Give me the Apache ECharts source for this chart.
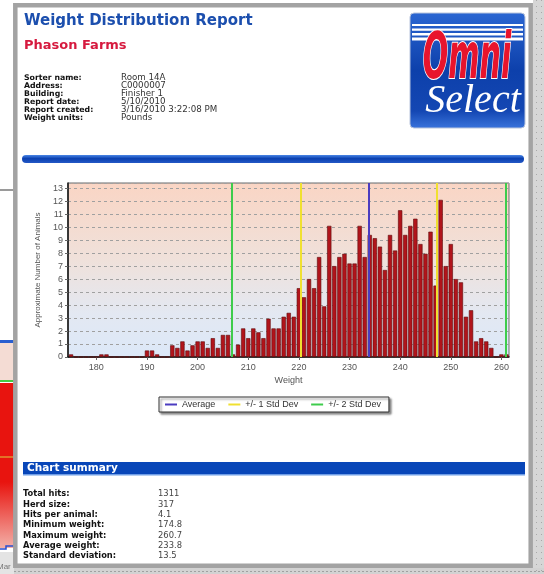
<!DOCTYPE html>
<html>
<head>
<meta charset="utf-8">
<script src="https://cdn.jsdelivr.net/npm/echarts@6/dist/echarts.min.js"></script>
<style>
html,body{margin:0;padding:0;background:#fff;}
#chart{width:544px;height:574px;}
</style>
</head>
<body>
<div id="chart"></div>
<script>
// ---------- data ----------
const weights = [175,176,177,178,179,180,181,182,183,184,185,186,187,188,189,190,191,192,193,194,
  195,196,197,198,199,200,201,202,203,204,205,206,207,208,209,210,211,212,213,214,215,216,217,218,219,
  220,221,222,223,224,225,226,227,228,229,230,231,232,233,234,235,236,237,238,239,240,241,242,243,244,
  245,246,247,248,249,250,251,252,253,254,255,256,257,258,259,260,261];
const animalCounts = [0.2,0,0,0,0,0,0.2,0.2,0,0,0,0,0,0,0,0.5,0.5,0.2,0,0,
  0.9,0.7,1.2,0.5,0.9,1.2,1.2,0.7,1.45,0.7,1.7,1.7,0.2,0.95,2.2,1.45,2.2,1.9,1.45,2.95,2.2,2.2,3.1,3.4,3.1,
  5.3,4.6,6.0,5.3,7.7,3.9,10.1,7.0,7.7,7.95,7.2,7.2,10.1,7.7,9.4,9.15,8.5,6.7,9.4,8.2,11.3,9.4,10.1,10.65,8.7,
  7.95,9.65,5.5,12.1,7.0,8.7,6.0,5.75,3.1,3.6,1.2,1.45,1.2,0.7,0,0.2,0.2];
const xTickLabels = [180,190,200,210,220,230,240,250,260];
const legendNames = ['Average','+/- 1 Std Dev','+/- 2 Std Dev'];
const averageLines = [233.8];
const oneSdLines = [220.3, 247.3];
const twoSdLines = [206.8, 260.8];

const infoLabels = ['Sorter name:','Address:','Building:','Report date:','Report created:','Weight units:'];
const infoValues = ['Room 14A','C0000007','Finisher 1','5/10/2010','3/16/2010 3:22:08 PM','Pounds'];
const summaryLabels = ['Total hits:','Herd size:','Hits per animal:','Minimum weight:','Maximum weight:','Average weight:','Standard deviation:'];
const summaryValues = ['1311','317','4.1','174.8','260.7','233.8','13.5'];

// ---------- layout / graphics ----------
const VER = '"DejaVu Sans", Verdana, sans-serif';
const ARIAL = '"Liberation Sans", Arial, sans-serif';
const g = [];

// right & bottom outside strips
g.push({type:'rect', shape:{x:533,y:0,width:11,height:574}, style:{fill:'#d6d6d6'}, z:-10});
g.push({type:'line', shape:{x1:536.5,y1:0,x2:536.5,y2:574}, style:{stroke:'#a8a8a8', lineWidth:1, lineDash:[1,5]}, z:-9});
g.push({type:'line', shape:{x1:541.5,y1:0,x2:541.5,y2:574}, style:{stroke:'#a8a8a8', lineWidth:1, lineDash:[1,5]}, z:-9});
g.push({type:'rect', shape:{x:14,y:568,width:530,height:6}, style:{fill:'#d2d2d2'}, z:-10});
g.push({type:'line', shape:{x1:14,y1:571.5,x2:544,y2:571.5}, style:{stroke:'#a0a0a0', lineWidth:1, lineDash:[2,2]}, z:-9});

// left background window
g.push({type:'line', shape:{x1:0,y1:190,x2:14,y2:190}, style:{stroke:'#9a9a9a', lineWidth:2}, z:-9});
g.push({type:'rect', shape:{x:0,y:343,width:14,height:37}, style:{fill:'#f4dcd4'}, z:-9});
g.push({type:'line', shape:{x1:0,y1:341.5,x2:14,y2:341.5}, style:{stroke:'#2a5fd0', lineWidth:3}, z:-8});
g.push({type:'rect', shape:{x:0,y:383,width:14,height:165}, style:{fill:{type:'linear',x:0,y:0,x2:0,y2:1,colorStops:[{offset:0,color:'#e8140f'},{offset:0.6,color:'#e8140f'},{offset:1,color:'#f3b0a8'}]}}, z:-9});
g.push({type:'line', shape:{x1:0,y1:381,x2:14,y2:381}, style:{stroke:'#44cc44', lineWidth:2}, z:-8});
g.push({type:'line', shape:{x1:0,y1:457,x2:14,y2:457}, style:{stroke:'#e09030', lineWidth:1.5}, z:-8});
g.push({type:'polyline', shape:{points:[[0,549],[6,549],[6,546],[14,546]]}, style:{stroke:'#2a4fd0', lineWidth:1.5, fill:null}, z:-8});
g.push({type:'rect', shape:{x:0,y:552,width:14,height:22}, style:{fill:'#e4e4e4'}, z:-9});
g.push({type:'text', x:-3, y:567, style:{text:'Mar', font:'8px '+ARIAL, fill:'#777', verticalAlign:'middle'}, z:-8});

// page with border
g.push({type:'rect', shape:{x:15.3,y:5.2,width:515.4,height:560.6}, style:{fill:'#ffffff', stroke:'#a3a3a3', lineWidth:4.5}, z:-5});

// Title texts
g.push({type:'text', x:24, y:21, style:{text:'Weight Distribution Report', font:'bold 15px '+VER, fill:'#1c4fae', verticalAlign:'middle'}});
g.push({type:'text', x:24, y:46, style:{text:'Phason Farms', font:'bold 13px '+VER, fill:'#d61a3f', verticalAlign:'middle'}});
infoLabels.forEach(function(t,i){
  g.push({type:'text', x:24, y:77.5+i*8.1, style:{text:t, font:'bold 7.8px '+VER, fill:'#111', verticalAlign:'middle'}});
});
infoValues.forEach(function(t,i){
  g.push({type:'text', x:121, y:77.5+i*8.1, style:{text:t, font:'8.7px '+VER, fill:'#333', verticalAlign:'middle'}});
});

// logo
g.push({type:'rect', shape:{x:410,y:13,width:115,height:115,r:4},
  style:{fill:{type:'linear',x:0,y:0,x2:0,y2:1,colorStops:[{offset:0,color:'#2b66d2'},{offset:0.5,color:'#0d40ab'},{offset:0.85,color:'#1447b3'},{offset:1,color:'#3a74dc'}]}, stroke:'#b8c4dc', lineWidth:1}});
[24,28.5,33,37.5].forEach(function(yy,i){
  g.push({type:'rect', shape:{x:412,y:yy,width:111,height:2+i*0.3}, style:{fill:'#ffffff'}});
});
g.push({type:'text', x:467, y:61, scaleY:1.75, scaleX:0.9, style:{text:'Omni', font:'italic bold 37px "DejaVu Sans Condensed", "DejaVu Sans", sans-serif', fill:'#e8142c', stroke:'#ffffff', lineWidth:1.2, align:'center', verticalAlign:'middle'}});
g.push({type:'text', x:473, y:101, style:{text:'Select', font:'italic 40px "Liberation Serif", serif', fill:'#ffffff', align:'center', verticalAlign:'middle', shadowColor:'rgba(0,0,40,0.6)', shadowBlur:2, shadowOffsetX:1, shadowOffsetY:1}});

// blue rounded separator bar
g.push({type:'rect', shape:{x:22,y:155,width:502,height:8,r:4},
  style:{fill:{type:'linear',x:0,y:0,x2:0,y2:1,colorStops:[{offset:0,color:'#4a86e6'},{offset:0.45,color:'#0b40b0'},{offset:1,color:'#2458c6'}]}}});

// Chart summary header
g.push({type:'rect', shape:{x:23,y:462,width:502,height:12}, style:{fill:'#0846b8'}});
g.push({type:'rect', shape:{x:23,y:474,width:502,height:1.5}, style:{fill:'#6f9de6'}});
g.push({type:'text', x:27, y:468.5, style:{text:'Chart summary', font:'bold 10.5px '+VER, fill:'#ffffff', verticalAlign:'middle'}});
summaryLabels.forEach(function(t,i){
  g.push({type:'text', x:23, y:494.3+i*10.3, style:{text:t, font:'bold 8.3px '+VER, fill:'#111', verticalAlign:'middle'}});
});
summaryValues.forEach(function(t,i){
  g.push({type:'text', x:158, y:494.3+i*10.3, style:{text:t, font:'8.4px '+VER, fill:'#444', verticalAlign:'middle'}});
});

// ---------- chart ----------
const chart = echarts.init(document.getElementById('chart'), null, {renderer:'canvas'});
function statSeries(name, color, values){
  return {
    name: name, type:'line', data:[], symbol:'none',
    itemStyle:{color:color}, lineStyle:{color:color, width:2},
    markLine:{symbol:'none', silent:true, label:{show:false}, animation:false,
      lineStyle:{color:color, width:2, type:'solid'},
      data: values.map(function(v){return {xAxis:v};})},
    z:5
  };
}
const option = {
  animation:false,
  backgroundColor:'#ffffff',
  graphic: g,
  grid:{left:68, top:183, right:35, bottom:217, show:true, borderColor:'#6b6b6b', borderWidth:1,
    backgroundColor:{type:'linear',x:0,y:0,x2:0,y2:1,colorStops:[{offset:0,color:'#fad5c4'},{offset:0.45,color:'#efe1db'},{offset:0.75,color:'#e3e8f2'},{offset:1,color:'#dce8f8'}]}},
  legend:{
    data: legendNames, left:159, top:397, orient:'horizontal',
    icon:'rect', itemWidth:12, itemHeight:2, itemGap:13,
    padding:[3,8,3,6],
    backgroundColor:'#ffffff', borderColor:'#333', borderWidth:1,
    shadowColor:'rgba(0,0,0,0.45)', shadowBlur:2, shadowOffsetX:2, shadowOffsetY:2,
    formatter: function(name){ return '{w|' + name + '}'; },
    textStyle:{fontFamily:'"Liberation Sans", Arial, sans-serif', fontSize:9, color:'#333',
      rich:{w:{width:56, fontFamily:'"Liberation Sans", Arial, sans-serif', fontSize:9, color:'#333'}}},
    selectedMode:false
  },
  xAxis:{
    type:'value', min:174.4, max:261.5,
    name:'Weight', nameLocation:'middle', nameGap:19,
    nameTextStyle:{fontFamily:'"Liberation Sans", Arial, sans-serif', fontSize:9, color:'#555'},
    axisLine:{show:true, onZero:false, lineStyle:{color:'#111', width:1.5}},
    axisTick:{show:true, length:3, customValues:xTickLabels, lineStyle:{color:'#666'}},
    axisLabel:{customValues:xTickLabels, margin:6, fontFamily:'"Liberation Sans", Arial, sans-serif', fontSize:9, color:'#555'},
    splitLine:{show:false}
  },
  yAxis:{
    type:'value', min:0, max:13.4, interval:1,
    name:'Approximate Number of Animals', nameLocation:'middle', nameGap:19, nameRotate:90,
    nameTextStyle:{fontFamily:'"Liberation Sans", Arial, sans-serif', fontSize:8, color:'#555'},
    axisLine:{show:true, lineStyle:{color:'#111', width:1.5}},
    axisTick:{show:true, length:3, lineStyle:{color:'#666'}},
    axisLabel:{showMaxLabel:false, margin:5, fontFamily:'"Liberation Sans", Arial, sans-serif', fontSize:9, color:'#555'},
    splitLine:{show:true, lineStyle:{color:'#a0a0a0', type:[3,3], width:1}}
  },
  series:[
    {
      name:'Animals', type:'bar', barWidth:'84%',
      data: weights.map(function(w,i){return [w, animalCounts[i]];}),
      itemStyle:{color:'#b1141b', borderColor:'#5e0a0a', borderWidth:0.6},
      z:3
    },
    statSeries(legendNames[0], '#4b3cc0', averageLines),
    statSeries(legendNames[1], '#f0e030', oneSdLines),
    statSeries(legendNames[2], '#3ecc4c', twoSdLines)
  ]
};
chart.setOption(option);
</script>
</body>
</html>
